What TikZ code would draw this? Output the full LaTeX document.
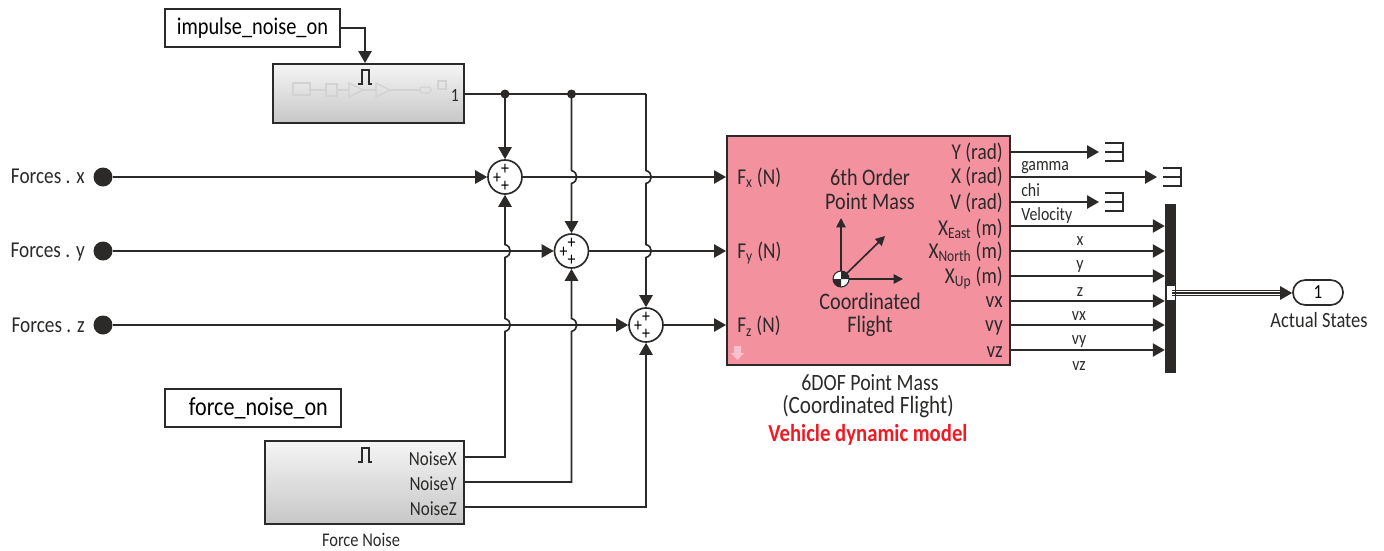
\documentclass[tikz,border=0pt]{standalone}
\usepackage{fontspec}
\setmainfont[FakeStretch=0.85]{Carlito}
\usetikzlibrary{arrows.meta,calc}
\def\px{0.75pt}
\definecolor{ink}{HTML}{2B2A29}
\definecolor{blockpink}{HTML}{F4919F}
\definecolor{ghost}{HTML}{D2D2D2}
\tikzset{
  wire/.style={draw=ink,line width=1.25pt},
  sig/.style={wire,-{Triangle[length=9pt,width=10pt,color=ink]}},
  varbox/.style={draw=ink,line width=1.5pt,fill=white,inner sep=0},
  subsys/.style={draw=ink,line width=1.5pt,inner sep=0,top color=white!96!black,bottom color=black!22},
  sumnode/.style={circle,draw=ink,line width=1.25pt,fill=white,minimum size=34*\px,inner sep=0},
  plus/.style={inner sep=0,font=\fontsize{14}{14}\selectfont},
  inport/.style={circle,fill=ink,minimum size=19*\px,inner sep=0},
  lbl/.style={inner sep=0,font=\fontsize{17}{19}\selectfont,text=ink},
  cen/.style={inner sep=0,font=\fontsize{17.8}{19}\selectfont,text=ink},
  sm/.style={inner sep=0,font=\fontsize{14}{16}\selectfont,text=ink},
  ghostline/.style={draw=ghost,line width=1pt},
  term/.style={draw=ink,line width=1.1pt},
  jdot/.style={circle,fill=ink,minimum size=9*\px,inner sep=0},
}
\newcommand{\sumat}[3]{%
  \node[sumnode] (#1) at (#2,#3) {};
  \node[plus] (#1a) at ($(#1)+(0,-8)$) {+};
  \node[plus] (#1b) at ($(#1)+(-8,1)$) {+};
  \node[plus] (#1c) at ($(#1)+(0,9)$) {+};
}
\newcommand{\hopup}{.. controls +(7,-2) and +(7,2) .. ++(0,-13)}
\newcommand{\hopdown}{.. controls +(7,2) and +(7,-2) .. ++(0,13)}
\newcommand{\pulse}[2]{\draw[ink,line width=0.8pt] (#1-7,#2+7) -- (#1-3,#2+7) -- (#1-3,#2-7) -- (#1+4,#2-7) -- (#1+4,#2+7) -- (#1+7,#2+7);}
\newcommand{\termat}[2]{\draw[term] (#1,#2-9) -- (#1+18,#2-9) -- (#1+18,#2+9) -- (#1,#2+9) (#1,#2) -- (#1+18,#2);}
\begin{document}
\begin{tikzpicture}[x=0.75pt,y=-0.75pt]
\useasboundingbox (0,0) rectangle (1384,550);

% top blocks
\node[varbox,minimum width=175*\px,minimum height=38*\px,font=\fontsize{18}{20}\selectfont] (impulse) at (252.5,28) {impulse\_noise\_on};
\node[subsys,minimum width=191*\px,minimum height=59*\px] (impblock) at (368.5,93.5) {};
\pulse{365}{77}
\draw[ghostline] (293,83) rectangle (310,95);
\draw[ghostline] (326,84) rectangle (337,96);
\draw[ghostline] (349,83) -- (363,90) -- (349,97) -- cycle;
\draw[ghostline] (376,83) -- (390,90) -- (376,97) -- cycle;
\draw[ghostline] (310,90) -- (326,90) (337,90) -- (349,90) (363,90) -- (376,90) (390,90) -- (420,90);
\draw[ghostline,rounded corners=2pt] (420,87) rectangle (431,93);
\draw[ghostline] (438,81) rectangle (446,89);
\node[sm] (impone) at (455,95) {1};

% noise blocks
\node[varbox,minimum width=176*\px,minimum height=38*\px,font=\fontsize{19.5}{21}\selectfont] (forceon) at (253,408) {\hspace*{8pt}force\_noise\_on};
\node[subsys,minimum width=199*\px,minimum height=83*\px] (noise) at (364.5,482.5) {};
\pulse{365}{455}
\node[lbl,anchor=east,font=\fontsize{15}{17}\selectfont] (nx) at (457,459) {NoiseX};
\node[lbl,anchor=east,font=\fontsize{15}{17}\selectfont] (ny) at (457,484) {NoiseY};
\node[lbl,anchor=east,font=\fontsize{15}{17}\selectfont] (nz) at (457,509) {NoiseZ};
\node[sm,font=\fontsize{14.5}{16}\selectfont] (noisename) at (361,540) {Force Noise};

% sums
\sumat{s1}{505}{177}
\sumat{s2}{571.5}{251}
\sumat{s3}{646}{325}

% inports
\node[inport] (fx) at (103,177) {};
\node[inport] (fy) at (103,251) {};
\node[inport] (fz) at (103,325) {};
\node[lbl,anchor=east] (fxl) at (85,176) {Forces . x};
\node[lbl,anchor=east] (fyl) at (85,252) {Forces . y};
\node[lbl,anchor=east] (fzl) at (85,325) {Forces . z};

% main block
\node[draw=ink,line width=1.5pt,fill=blockpink,minimum width=283*\px,minimum height=229*\px,inner sep=0] (plant) at (868.5,250.5) {};

\node[lbl,anchor=west] (pfx) at (737,177.5) {F\textsubscript{x} (N)};
\node[lbl,anchor=west] (pfy) at (737,253) {F\textsubscript{y} (N)};
\node[lbl,anchor=west] (pfz) at (737,326) {F\textsubscript{z} (N)};
\node[lbl,anchor=east] (po1) at (1003,153) {Y (rad)};
\node[lbl,anchor=east] (po2) at (1003,177) {X (rad)};
\node[lbl,anchor=east] (po3) at (1003,203) {V (rad)};
\node[lbl,anchor=east] (po4) at (1003,229) {X\textsubscript{East} (m)};
\node[lbl,anchor=east] (po5) at (1003,252) {X\textsubscript{North} (m)};
\node[lbl,anchor=east] (po6) at (1003,278) {X\textsubscript{Up} (m)};
\node[lbl,anchor=east] (po7) at (1003,302) {vx};
\node[lbl,anchor=east] (po8) at (1003,328) {vy};
\node[lbl,anchor=east] (po9) at (1003,352) {vz};
\node[cen] (t1) at (870,177) {6th Order};
\node[cen] (t2) at (870,201) {Point Mass};
\node[cen] (t3) at (870,301) {Coordinated};
\node[cen] (t4) at (870,326) {Flight};
% axes
\coordinate (org) at (841,279);
\draw[wire,-{Triangle[length=7pt,width=7pt,color=ink]}] (org) -- (841,218);
\draw[wire,-{Triangle[length=7pt,width=7pt,color=ink]}] (org) -- (903,279);
\draw[wire,-{Triangle[length=7pt,width=7pt,color=ink]}] (org) -- (885,236);
\fill[white] (org) circle[radius=8];
\fill[ink] (org) -- (849,279) arc[start angle=0,end angle=-90,radius=8] -- cycle;
\fill[ink] (org) -- (833,279) arc[start angle=180,end angle=90,radius=8] -- cycle;
\draw[ink,line width=0.8pt] (org) circle[radius=8];
% library arrow
\fill[white,opacity=0.45] (734,346) -- (741,346) -- (741,353) -- (744,353) -- (737.5,360) -- (731,353) -- (734,353) -- cycle;

\node[lbl,font=\fontsize{17.5}{19}\selectfont] (n1) at (870,383) {6DOF Point Mass};
\node[lbl,font=\fontsize{18.7}{20}\selectfont] (n2) at (868,407) {(Coordinated Flight)};
\node[lbl,font=\fontsize{18.3}{20}\bfseries\selectfont,text={rgb,255:red,237;green,28;blue,36}] (n3) at (868,435) {Vehicle dynamic model};

% wires: top
\coordinate (impout) at (impblock.east |- 0,94);
\coordinate (j1) at (s1.north |- impout);
\coordinate (j2) at (s2.north |- impout);
\coordinate (corner) at (s3.north |- impout);
\draw[sig] (impulse.east) -| (impblock.north -| 365,0);
\draw[wire] (impout) -- (corner);
\node[jdot] (dot1) at (j1) {};
\node[jdot] (dot2) at (j2) {};
\draw[sig] (j1) -- (s1.north);
\draw[sig] ($(s2.north |- impout)$) -- ($(s2.north |- fx)+(0,-6.5)$) \hopdown -- (s2.north);
\draw[sig] (corner) -- ($(s3.north |- fx)+(0,-6.5)$) \hopdown -- ($(s3.north |- fy)+(0,-6.5)$) \hopdown -- (s3.north);

% wires: noise
\coordinate (nox) at (noise.east |- 0,457);
\coordinate (noy) at (noise.east |- 0,482);
\coordinate (noz) at (noise.east |- 0,507);
\draw[sig] (nox) -- (s1.south |- nox) -- ($(s1.south |- fz)+(0,6.5)$) \hopup -- ($(s1.south |- fy)+(0,6.5)$) \hopup -- (s1.south);
\draw[sig] (noy) -- (s2.south |- noy) -- ($(s2.south |- fz)+(0,6.5)$) \hopup -- (s2.south);
\draw[sig] (noz) -- (s3.south |- noz) -- (s3.south);

% wires: inputs
\draw[sig] (fx) -- (s1.west);
\draw[sig] (fy) -- (s2.west);
\draw[sig] (fz) -- (s3.west);
\draw[sig] (s1.east) -- (plant.west |- s1);
\draw[sig] (s2.east) -- (plant.west |- s2);
\draw[sig] (s3.east) -- (plant.west |- s3);

% outputs
\node[fill=ink,minimum width=11*\px,minimum height=169*\px,inner sep=0] (mux) at (1170.5,288.5) {};
\coordinate (t1p) at (1099,152);
\coordinate (t2p) at (1157,177);
\coordinate (t3p) at (1099,202);
\draw[sig] (plant.east |- t1p) -- (t1p);
\draw[sig] (plant.east |- t2p) -- (t2p);
\draw[sig] (plant.east |- t3p) -- (t3p);
\termat{1105}{152}
\termat{1163}{177}
\termat{1105}{202}
\foreach \yy/\nm in {226/a,251/b,276/c,301/d,325/e,350/f}{
  \coordinate (out\nm) at (plant.east |- 0,\yy);
  \draw[sig] (out\nm) -- (mux.west |- out\nm);
}
\node[sm,anchor=west] (sgamma) at (1021,167.5) {gamma};
\node[sm,anchor=west] (schi) at (1021,190.5) {chi};
\node[sm,anchor=west] (svel) at (1021,215.5) {Velocity};
\node[sm] (sx) at (1080,241) {x};
\node[sm] (sy) at (1080,267) {y};
\node[sm] (sz) at (1080,292) {z};
\node[sm] (svx) at (1079,316) {vx};
\node[sm] (svy) at (1079,342) {vy};
\node[sm] (svz) at (1079,366) {vz};

% output port
\node[draw=ink,line width=1.25pt,fill=white,rounded corners=9.2pt,minimum width=50*\px,minimum height=25*\px,inner sep=0,font=\fontsize{15}{17}\selectfont] (outp) at (1318,292.5) {1};
\node[lbl,font=\fontsize{16.3}{18}\selectfont] (outl) at (1319,320) {Actual States};
\fill[white] (1167,286) rectangle (1175,300);
\coordinate (busa) at (1172,293);
\foreach \dy in {-2.7,0,2.7}{
  \draw[ink,line width=0.8pt] ($(busa)+(0,\dy)$) -- ($(outp.west)+(-8,\dy+0.5)$);
}
\draw[sig] ($(outp.west)+(-12,0.5)$) -- ($(outp.west)+(0,0.5)$);
\end{tikzpicture}
\end{document}
